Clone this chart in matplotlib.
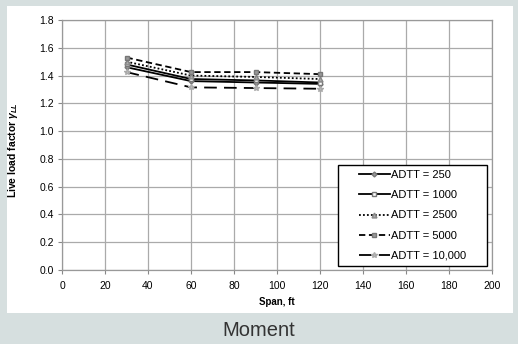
import numpy as np
import matplotlib.pyplot as plt
from matplotlib.patches import Rectangle

# Data
span = [30, 60, 90, 120]
adtt_250 = [1.46, 1.36, 1.35, 1.34]
adtt_1000 = [1.48, 1.375, 1.365, 1.35]
adtt_2500 = [1.50, 1.40, 1.39, 1.375]
adtt_5000 = [1.53, 1.425, 1.425, 1.41]
adtt_10000 = [1.425, 1.315, 1.31, 1.305]

labels = ['ADTT = 250', 'ADTT = 1000', 'ADTT = 2500', 'ADTT = 5000', 'ADTT = 10,000']
xticks = [0, 20, 40, 60, 80, 100, 120, 140, 160, 180, 200]
yticks = [0.0, 0.2, 0.4, 0.6, 0.8, 1.0, 1.2, 1.4, 1.6, 1.8]

plt.rcParams['font.family'] = ['Liberation Sans', 'DejaVu Sans']
plt.rcParams['mathtext.fontset'] = 'custom'
plt.rcParams['mathtext.it'] = 'Liberation Sans:italic:bold'
plt.rcParams['mathtext.rm'] = 'Liberation Sans:bold'

W, H = 518, 344
Fig = plt.figure(figsize=(W / 100, H / 100), dpi=100)
Fig.patch.set_facecolor('#d6dfdf')
Fig.patches.append(Rectangle((7 / W, 1 - 313 / H), 506 / W, 307 / H,
                             transform=Fig.transFigure, facecolor='white',
                             edgecolor='none', zorder=-10))

ax = Fig.add_axes([62 / W, 1 - 270 / H, 430 / W, 250 / H])
ax.set_facecolor('none')

lw = 1.3
ax.plot(span, adtt_250, color='black', lw=lw, ls='-', marker='D', markersize=2.5,
        markeredgecolor='#777777', markerfacecolor='#999999', label=labels[0])
ax.plot(span, adtt_1000, color='black', lw=lw, ls='-', marker='s', markersize=3.5,
        markeredgecolor='#777777', markerfacecolor='white', label=labels[1])
ax.plot(span, adtt_2500, color='black', lw=lw, ls=(0, (1, 1.2)), marker='^', markersize=3.5,
        markeredgecolor='#888888', markerfacecolor='#aaaaaa', label=labels[2])
ax.plot(span, adtt_5000, color='black', lw=lw, ls=(0, (3.5, 2)), marker='s', markersize=3.5,
        markeredgecolor='#777777', markerfacecolor='#999999', label=labels[3])
ax.plot(span, adtt_10000, color='black', lw=lw, ls=(0, (7, 4)), marker='*', markersize=4,
        markeredgecolor='#aaaaaa', markerfacecolor='#bbbbbb', label=labels[4])

ax.set_xlim(0, 200)
ax.set_ylim(0, 1.8)
ax.set_xticks(xticks)
ax.set_yticks(yticks)
ax.set_yticklabels(['%.1f' % v for v in yticks])
ax.tick_params(labelsize=7.5, length=3, color='#888888')
ax.tick_params(axis='x', pad=5)
ax.tick_params(axis='y', pad=3)
ax.grid(color='#aaaaaa', lw=0.9)
ax.set_axisbelow(True)
for s in ax.spines.values():
    s.set_color('#999999')
    s.set_linewidth(0.9)

ax.set_xlabel('Span, ft', fontsize=7, fontweight='bold', labelpad=4)
ax.set_ylabel(r'Live load factor $\gamma_{LL}$', fontsize=7.5, fontweight='bold')
ax.yaxis.set_label_coords(-0.097, 0.48)

# legend box drawn by hand (Excel-style wide left padding)
ax.add_artist(Rectangle((338 / W, 1 - 266 / H), 149 / W, 101 / H, transform=Fig.transFigure,
                        facecolor='white', edgecolor='black', lw=1.0, zorder=4, clip_on=False))
leg = ax.legend(loc='upper left', bbox_to_anchor=(359 / W, 1 - 170 / H),
                bbox_transform=Fig.transFigure, fontsize=8, frameon=False,
                handlelength=2.75, borderpad=0, borderaxespad=0,
                labelspacing=0.92, handletextpad=0.15)
leg.set_zorder(5)

Fig.text(0.5, 1 - 331 / H, 'Moment', ha='center', va='center', fontsize=14.5, color='#333333')

Fig.savefig('out.png', dpi=100, facecolor=Fig.get_facecolor())
